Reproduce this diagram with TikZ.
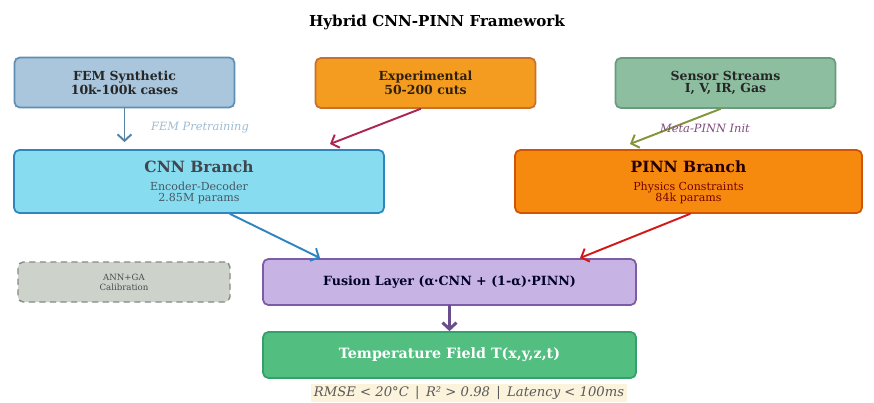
\documentclass[tikz,border=0pt]{standalone}
\usepackage{fontspec}
\setmainfont{DejaVu Serif}
\usepackage{xcolor}
\usetikzlibrary{arrows.meta,positioning}
\definecolor{femfill}{HTML}{A9C6DC}
\definecolor{femline}{HTML}{5E8FB5}
\definecolor{expfill}{HTML}{F39C1F}
\definecolor{expline}{HTML}{C8702F}
\definecolor{senfill}{HTML}{8DBEA0}
\definecolor{senline}{HTML}{6B9A7F}
\definecolor{cnnfill}{HTML}{88DCF0}
\definecolor{cnnline}{HTML}{2E86C1}
\definecolor{pinnfill}{HTML}{F68A0E}
\definecolor{pinnline}{HTML}{D35400}
\definecolor{annfill}{HTML}{CDD3CB}
\definecolor{annline}{HTML}{858B85}
\definecolor{fusfill}{HTML}{C8B4E4}
\definecolor{fusline}{HTML}{7D5BA6}
\definecolor{tmpfill}{HTML}{52BE80}
\definecolor{tmpline}{HTML}{34A06C}
\definecolor{metfill}{HTML}{FBF3DC}
\tikzset{
  every picture/.append style={line cap=round,line join=round},
  fw box/.style={draw,rounded corners=3pt,line width=1pt,align=center,inner sep=2pt},
  fw small/.style={draw,rounded corners=3pt,line width=1pt,align=center,
    font=\bfseries\fontsize{7.1}{6.4}\selectfont,minimum width=4.4cm,minimum height=1cm},
  fw big/.style={draw,rounded corners=3pt,line width=1pt,align=center,minimum height=1.26cm},
  fw head/.style={font=\bfseries\fontsize{8.8}{9}\selectfont},
  fw sub/.style={font=\fontsize{6.3}{6.3}\selectfont,align=center},
  fw label/.style={font=\itshape\fontsize{6.5}{7}\selectfont},
  fw arrow/.style={line width=1.1pt,-{Straight Barb[length=1.3mm,width=2.8mm]}}
}
\begin{document}
\begin{tikzpicture}[x=0.02cm,y=-0.02cm]
  \useasboundingbox[fill=white] (0,0) rectangle (874,402);
  \node[font=\bfseries\fontsize{8.6}{10}\selectfont] (title) at (437,22) {Hybrid CNN-PINN Framework};

  % data sources
  \node[fw small,fill=femfill,draw=femline,text=black!85] (fem) at (124.5,82.5) {FEM Synthetic\\10k-100k cases};
  \node[fw small,fill=expfill,draw=expline,text=black!75!brown] (exp) at (425.5,83) {Experimental\\50-200 cuts};
  \node[fw small,fill=senfill,draw=senline,text=black!85] (sen) at (725.5,83) {Sensor Streams\\I, V, IR, Gas};

  % branches
  \node[fw big,fill=cnnfill,draw=cnnline,minimum width=7.4cm] (cnn) at (199,181.5) {};
  \node[fw head,text=black!80!cyan] (cnnhead) at (199,167) {CNN Branch};
  \node[fw sub,text=black!70!cyan] (cnnsub) at (199,193) {Encoder-Decoder\\2.85M params};
  \node[fw big,fill=pinnfill,draw=pinnline,minimum width=6.94cm] (pinn) at (688.5,181.5) {};
  \node[fw head,text=black!85!red] (pinnhead) at (688.5,167) {PINN Branch};
  \node[fw sub,text=red!45!black] (pinnsub) at (688.5,193) {Physics Constraints\\84k params};

  \node[fw box,fill=annfill,draw=annline,dashed,line width=0.8pt,minimum width=4.24cm,minimum height=0.8cm,
    font=\fontsize{4.9}{5.6}\selectfont,text=black!70] (ann) at (124,282) {ANN+GA\\Calibration};
  \node[fw box,fill=fusfill,draw=fusline,minimum width=7.46cm,minimum height=0.92cm,
    font=\bfseries\fontsize{7.2}{8}\selectfont,text=black!85!blue] (fus) at (449.5,282) {Fusion Layer (α·CNN + (1-α)·PINN)};
  \node[fw box,fill=tmpfill,draw=tmpline,minimum width=7.46cm,minimum height=0.92cm,
    font=\bfseries\fontsize{8.1}{9}\selectfont,text=white] (tmp) at (449.5,355) {Temperature Field T(x,y,z,t)};
  \node[fill=metfill,inner sep=1.5pt,font=\itshape\fontsize{7.5}{8}\selectfont,text=black!65] (met) at (469,393)
    {RMSE < 20°C \,|\, R² > 0.98 \,|\, Latency < 100ms};

  \coordinate (expin) at (330,144);
  \coordinate (pinnin) at (630,144);
  \coordinate (fusl) at (320,258);
  \coordinate (fusr) at (580,258);

  \draw[fw arrow,draw=femline!90!black] (fem.south) -- ([yshift=0.14cm]fem.south |- cnn.north);
  \draw[fw arrow,draw=violet!50!red!70!gray] ([xshift=-0.1cm]exp.south) -- (expin);
  \draw[fw arrow,draw=olive!70!green!70!gray] ([xshift=-0.1cm]sen.south) -- (pinnin);
  \draw[fw arrow,draw=cnnline] ([xshift=0.62cm]cnn.south) -- (fusl);
  \draw[fw arrow,draw=red!80!black!90] ([xshift=0.03cm]pinn.south) -- (fusr);
  \draw[fw arrow,draw=fusline!85!black,line width=1.7pt] (fus.south) -- (tmp.north);

  \node[fw label,text=femline!60] (femlab) at (200,128) {FEM Pretraining};
  \node[fw label,text=violet!40!gray] (senlab) at (705,128) {Meta-PINN Init};
\end{tikzpicture}
\end{document}
